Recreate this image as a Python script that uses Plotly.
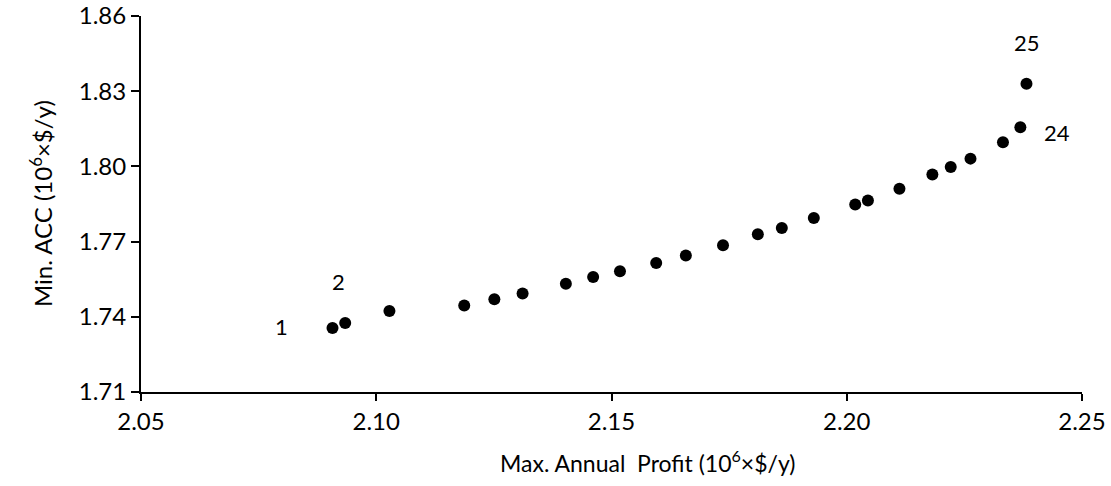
import plotly.graph_objects as go

# Data
profit = [2.0907, 2.0934, 2.1028, 2.1187, 2.1251, 2.1311, 2.1403, 2.1461,
          2.1518, 2.1595, 2.1658, 2.1737, 2.1811, 2.1862, 2.1930, 2.2018,
          2.2045, 2.2112, 2.2182, 2.2221, 2.2263, 2.2332, 2.2369, 2.2382]
acc = [1.7355, 1.7375, 1.7423, 1.7445, 1.7470, 1.7493, 1.7532, 1.7559,
       1.7582, 1.7615, 1.7645, 1.7685, 1.7729, 1.7754, 1.7794, 1.7848,
       1.7864, 1.7911, 1.7968, 1.7998, 1.8031, 1.8096, 1.8156, 1.8330]

# Point labels: (index into the arrays, text)
label_idx = [0, 1, 22, 23]
label_txt = ["1", "2", "24", "25"]

x_ticks = [2.05, 2.10, 2.15, 2.20, 2.25]
y_ticks = [1.71, 1.74, 1.77, 1.80, 1.83, 1.86]

FONT = "Lato"

fig = go.Figure()
fig.add_trace(go.Scatter(
    x=profit, y=acc, mode="markers",
    marker=dict(color="black", size=12),
    showlegend=False, hoverinfo="x+y",
))

# label offsets (pixels)
offsets = {"1": (-51, 2), "2": (-7, 42), "24": (37, -5), "25": (1, 41)}
for i, t in zip(label_idx, label_txt):
    dx, dy = offsets[t]
    fig.add_annotation(x=profit[i], y=acc[i], text=t, showarrow=False,
                       xshift=dx, yshift=dy,
                       font=dict(family=FONT, size=22, color="black"))

fig.add_annotation(xref="paper", yref="paper", x=0.538, y=0, yshift=-69,
                   text="Max. Annual  Profit (10<sup>6</sup>×$/y)",
                   showarrow=False, xanchor="center", yanchor="middle",
                   font=dict(family=FONT, size=23, color="black"))
fig.add_annotation(xref="paper", yref="paper", x=0, y=0.5, xshift=-100,
                   text="Min. ACC (10<sup>6</sup>×$/y)", textangle=-90,
                   showarrow=False, xanchor="center", yanchor="middle",
                   font=dict(family=FONT, size=24, color="black"))

fig.update_layout(
    width=1111, height=486,
    margin=dict(l=141, r=29, t=16, b=94, autoexpand=False),
    paper_bgcolor="white", plot_bgcolor="white",
    font=dict(family=FONT, size=24, color="black"),
    xaxis=dict(range=[2.05, 2.25], tickvals=x_ticks,
               ticktext=[f"{v:.2f}" for v in x_ticks],
               showgrid=False, zeroline=False, showline=True,
               linecolor="black", linewidth=2, ticks="outside",
               ticklen=7, tickwidth=2, tickcolor="black", automargin=False,
               tickfont=dict(family=FONT, size=24)),
    yaxis=dict(range=[1.71, 1.86], tickvals=y_ticks,
               ticktext=[f"{v:.2f}" for v in y_ticks],
               showgrid=False, zeroline=False, showline=True,
               linecolor="black", linewidth=2, ticks="outside",
               ticklen=8, tickwidth=2, tickcolor="black", automargin=False,
               tickfont=dict(family=FONT, size=24)),
)

fig.write_html("out.html",
               config={"displayModeBar": False},
               post_script="document.body.style.margin='0';document.body.style.overflow='hidden';")
